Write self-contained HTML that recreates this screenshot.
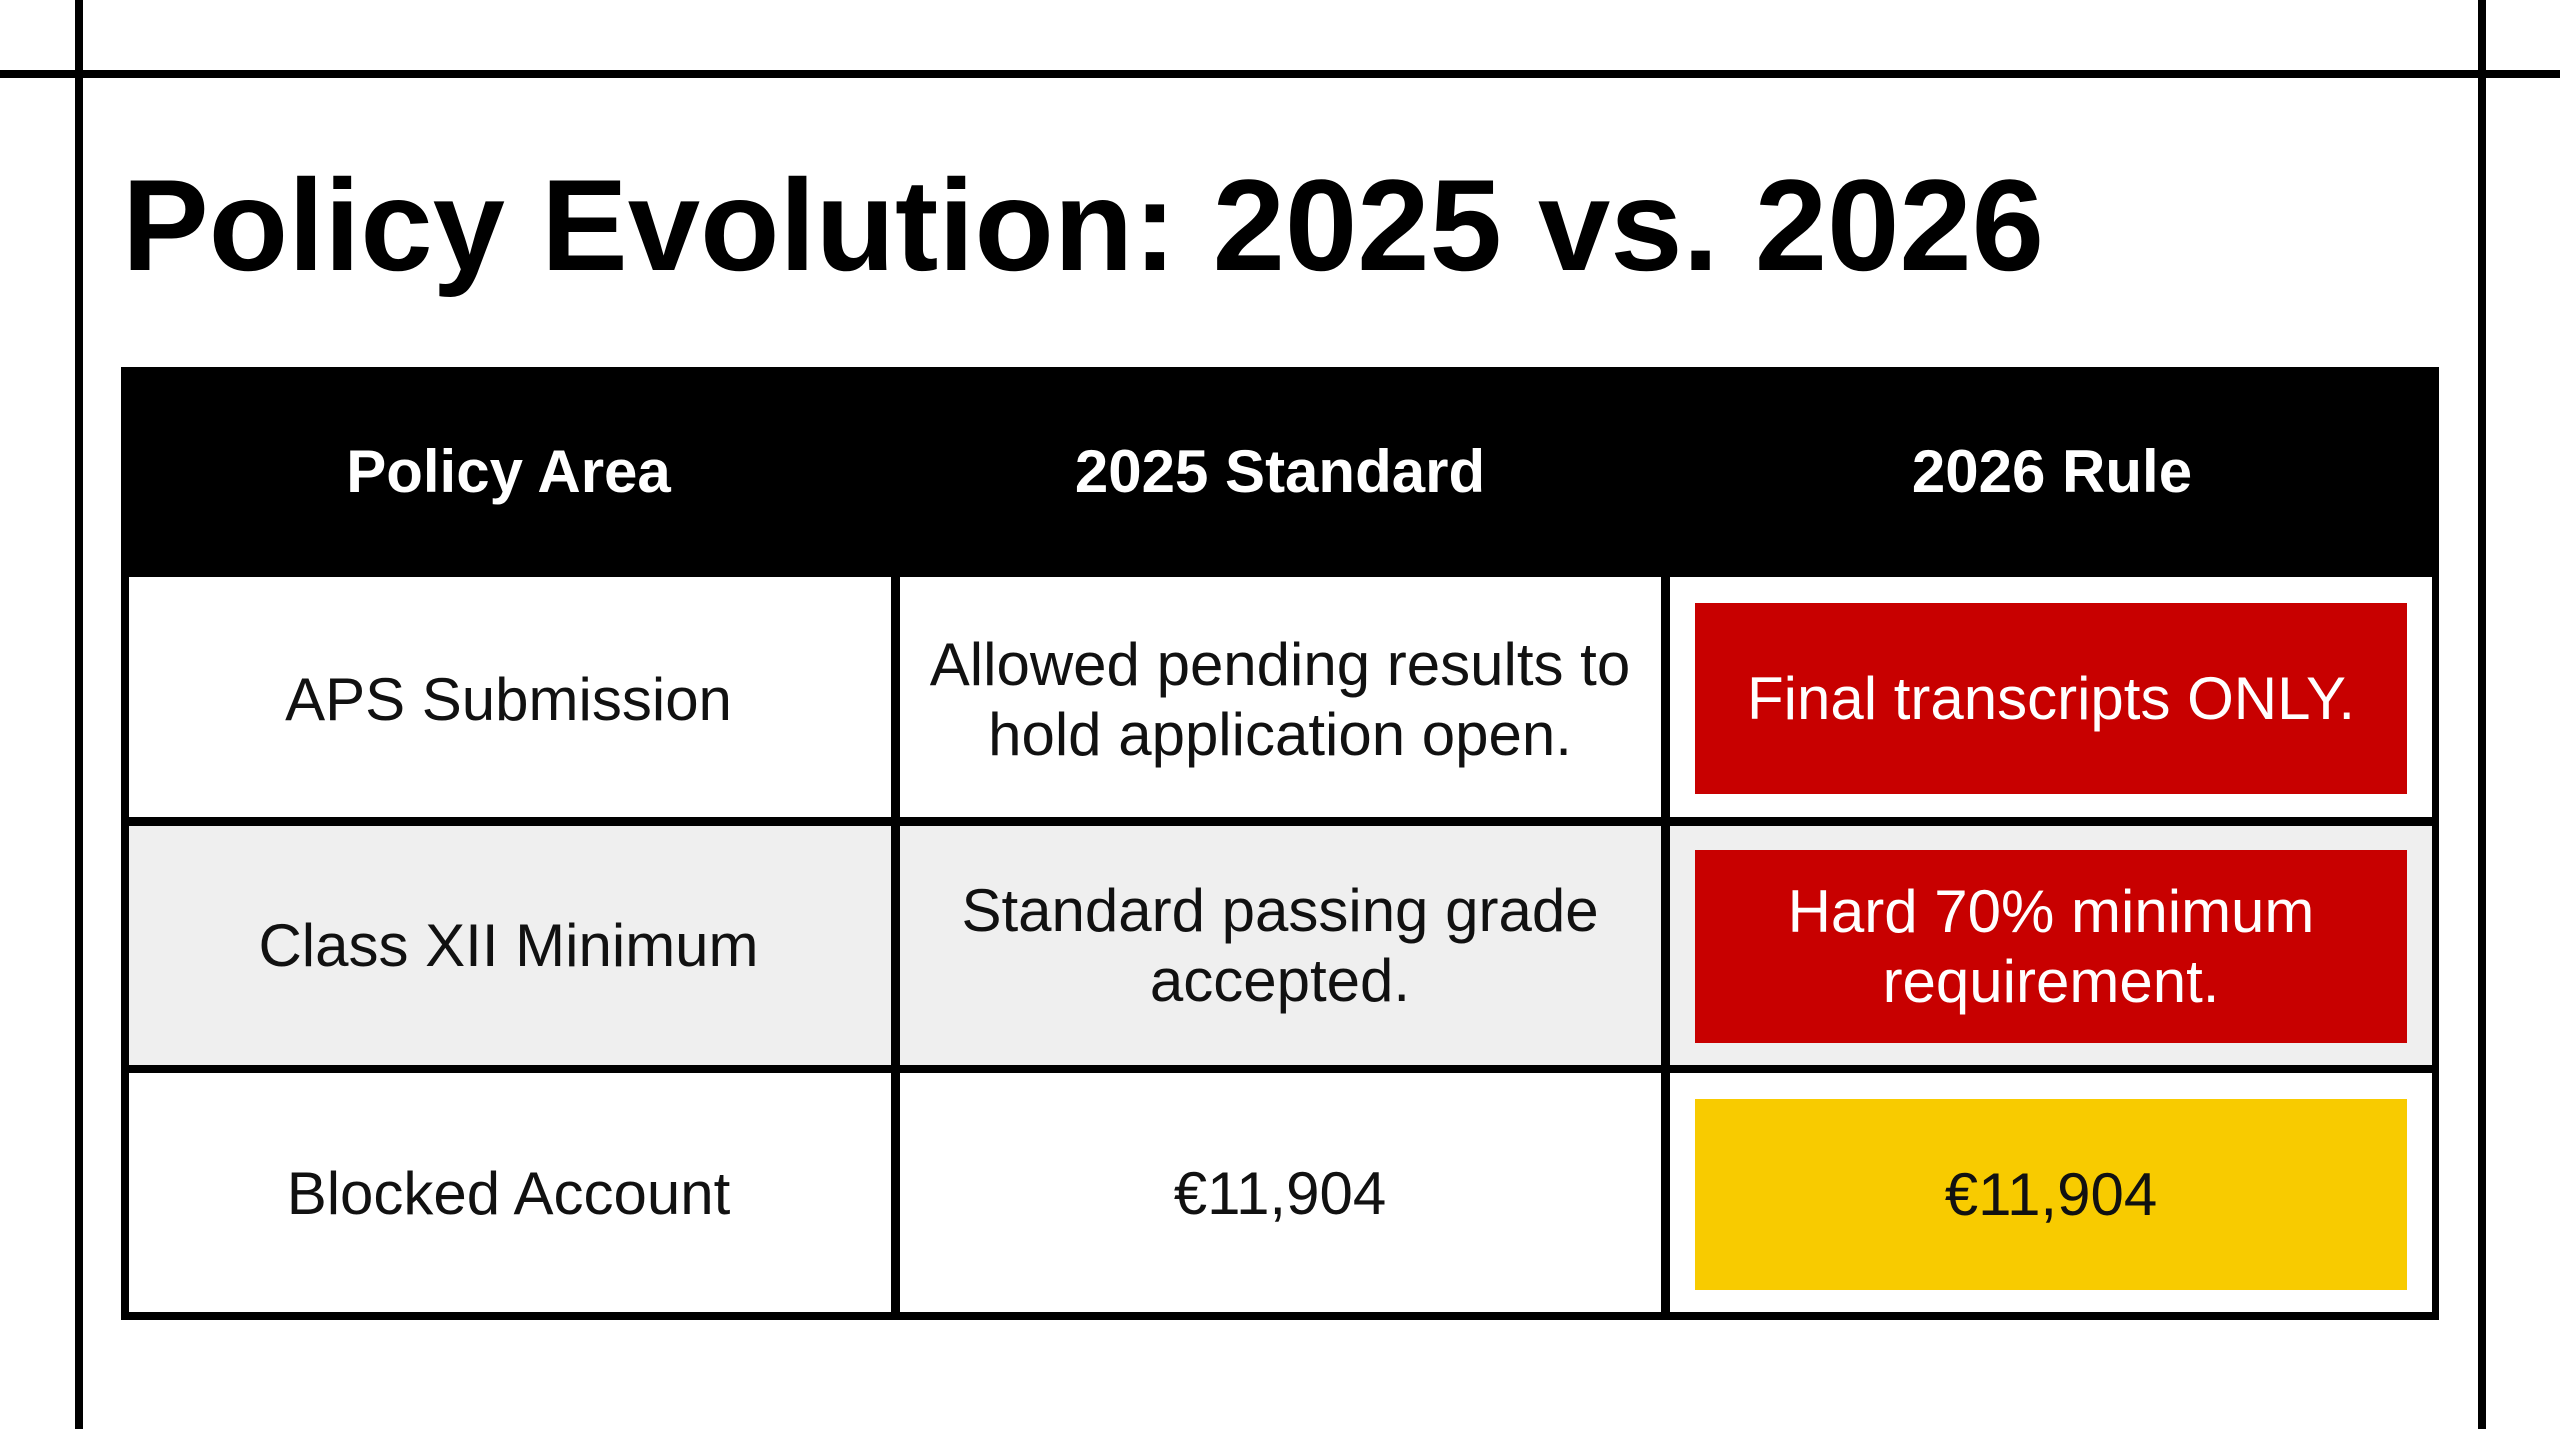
<!DOCTYPE html>
<html><head><meta charset="utf-8"><style>
body{margin:0;width:2560px;height:1429px;background:#fff;position:relative;overflow:hidden;font-family:"Liberation Sans",Arial,sans-serif;}
.a{position:absolute;}
.c{position:absolute;display:flex;align-items:center;justify-content:center;text-align:center;font-size:60px;line-height:70px;color:#111;}
</style></head><body>
<div class="a" style="left:0;top:70px;width:2560px;height:8px;background:#000"></div>
<div class="a" style="left:75px;top:0;width:8px;height:1429px;background:#000"></div>
<div class="a" style="left:2478px;top:0;width:8px;height:1429px;background:#000"></div>
<div class="a" style="left:122px;top:150px;font-size:130px;font-weight:bold;line-height:150px;letter-spacing:0px;color:#000;white-space:nowrap">Policy Evolution: 2025 vs. 2026</div>

<div class="a" style="left:121px;top:367px;width:2318px;height:953px;background:#000"></div>
<div class="a" style="left:129px;top:577px;width:762px;height:240px;background:#fff"></div>
<div class="a" style="left:900px;top:577px;width:761px;height:240px;background:#fff"></div>
<div class="a" style="left:1670px;top:577px;width:762px;height:240px;background:#fff"></div>
<div class="a" style="left:129px;top:826px;width:762px;height:239px;background:#efefef"></div>
<div class="a" style="left:900px;top:826px;width:761px;height:239px;background:#efefef"></div>
<div class="a" style="left:1670px;top:826px;width:762px;height:239px;background:#efefef"></div>
<div class="a" style="left:129px;top:1073px;width:762px;height:239px;background:#fff"></div>
<div class="a" style="left:900px;top:1073px;width:761px;height:239px;background:#fff"></div>
<div class="a" style="left:1670px;top:1073px;width:762px;height:239px;background:#fff"></div>

<div class="c" style="left:121px;top:367px;width:775px;height:210px;color:#fff;font-weight:bold;font-size:60px">Policy Area</div>
<div class="c" style="left:895px;top:367px;width:770px;height:210px;color:#fff;font-weight:bold;font-size:60px">2025 Standard</div>
<div class="c" style="left:1665px;top:367px;width:774px;height:210px;color:#fff;font-weight:bold;font-size:60px">2026 Rule</div>

<div class="c" style="left:121px;top:577px;width:775px;height:245px">APS Submission</div>
<div class="c" style="left:895px;top:577px;width:770px;height:245px">Allowed pending results to<br>hold application open.</div>
<div class="c" style="left:1695px;top:603px;width:712px;height:191px;background:#c80000;color:#fff">Final transcripts ONLY.</div>

<div class="c" style="left:121px;top:826px;width:775px;height:240px">Class XII Minimum</div>
<div class="c" style="left:895px;top:826px;width:770px;height:240px">Standard passing grade<br>accepted.</div>
<div class="c" style="left:1695px;top:850px;width:712px;height:193px;background:#c80000;color:#fff">Hard 70% minimum<br>requirement.</div>

<div class="c" style="left:121px;top:1073px;width:775px;height:242px">Blocked Account</div>
<div class="c" style="left:895px;top:1073px;width:770px;height:242px">€11,904</div>
<div class="c" style="left:1695px;top:1099px;width:712px;height:191px;background:#f8cb00">€11,904</div>
</body></html>
